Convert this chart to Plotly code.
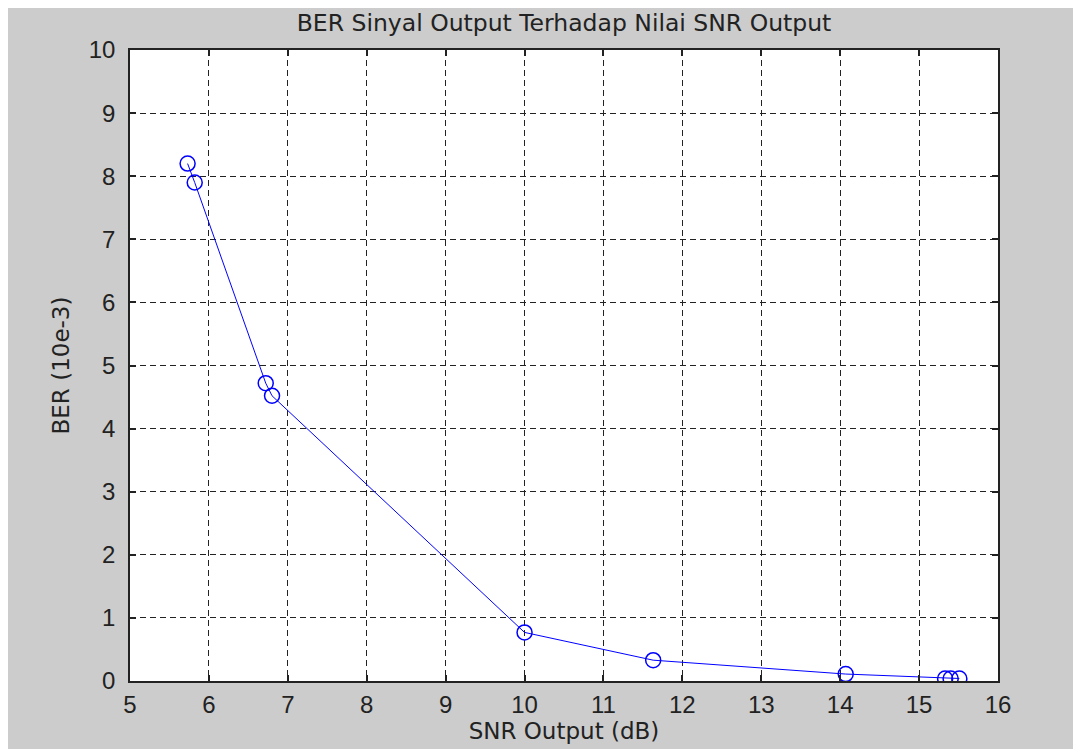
import plotly.graph_objects as go

snr_db = [5.73, 5.82, 6.72, 6.80, 10.0, 11.63, 14.07, 15.33, 15.40, 15.51]
ber_1e3 = [8.20, 7.90, 4.72, 4.52, 0.77, 0.33, 0.11, 0.04, 0.04, 0.04]
x_ticks = list(range(5, 17))
y_ticks = list(range(0, 11))

# page body adds an 8px margin, so the figure is sized to the remaining window
W, H = 1073, 741
L, R, T, B = 122, 83, 42, 68

TXT = "DejaVu Sans, Liberation Sans, sans-serif"
TICK = "Liberation Sans, Arial, sans-serif"

fig = go.Figure()
fig.add_trace(go.Scatter(
    x=snr_db, y=ber_1e3, mode="lines+markers",
    line=dict(color="#0000ff", width=1),
    marker=dict(symbol="circle-open", size=15, color="#0000ff", line=dict(width=1.5, color="#0000ff")),
    showlegend=False,
))

axis_common = dict(
    showline=True, linecolor="#222", linewidth=1.5, mirror="allticks",
    ticks="inside", ticklen=6, tickcolor="#222", tickwidth=1.5,
    showgrid=True, gridcolor="#222", gridwidth=1, griddash="6px,4px",
    zeroline=False, automargin=False,
    tickfont=dict(family=TICK, size=24, color="#222"),
)
fig.update_xaxes(range=[5, 16], tickvals=x_ticks, ticklabelstandoff=1, **axis_common,
                 title=dict(text="SNR Output (dB)", standoff=2,
                            font=dict(family=TXT, size=23, color="#222")))
fig.update_yaxes(range=[0, 10], tickvals=y_ticks, ticklabelstandoff=8, **axis_common,
                 title=dict(text="BER (10e-3)", standoff=13,
                            font=dict(family=TXT, size=23, color="#222")))

fig.update_layout(
    width=W, height=H,
    margin=dict(l=L, r=R, t=T, b=B, pad=0, autoexpand=False),
    paper_bgcolor="#cccccc", plot_bgcolor="white",
    title=dict(text="BER Sinyal Output Terhadap Nilai SNR Output",
               x=(L + (W - L - R) / 2) / W, xanchor="center",
               y=1 - 15 / H, yanchor="middle",
               font=dict(family=TXT, size=23.5, color="#222")),
)
fig.write_html("out.html")
